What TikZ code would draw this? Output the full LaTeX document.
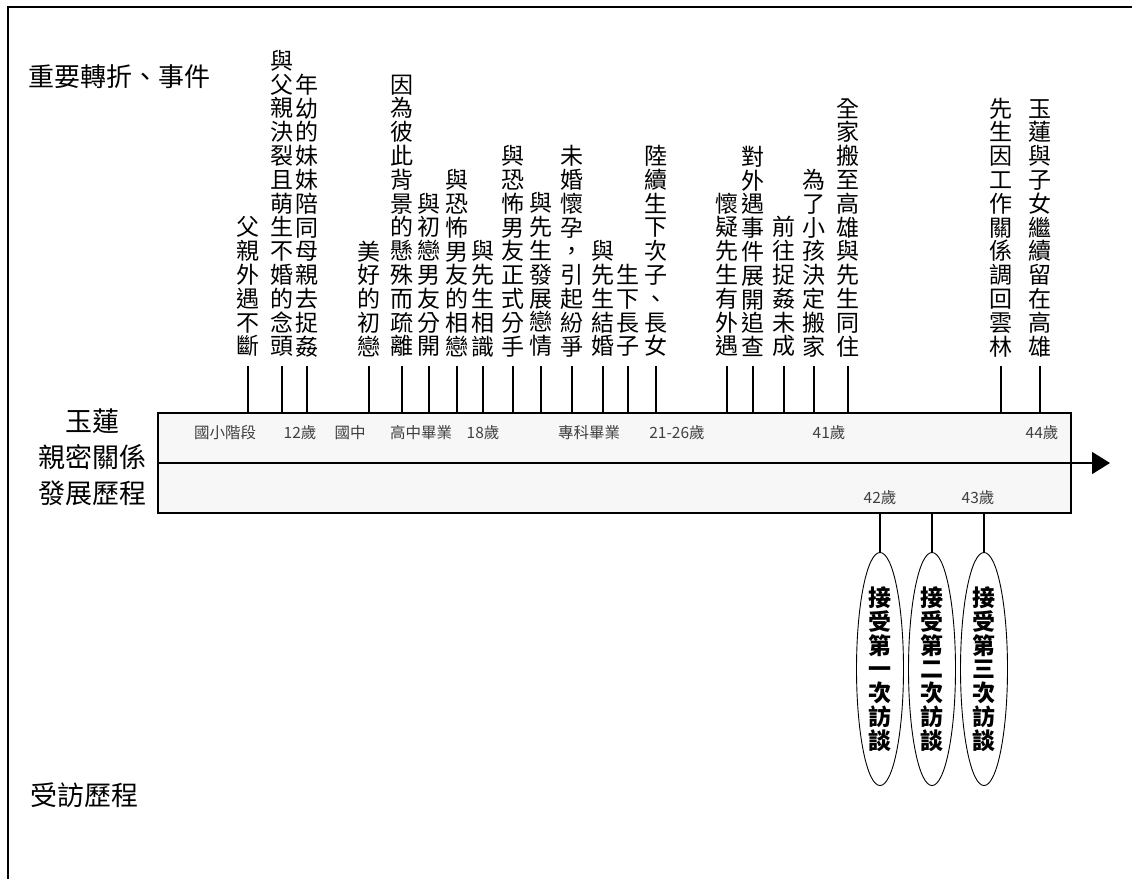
\documentclass[tikz,border=0pt]{standalone}
\usepackage{fontspec}
\newfontfamily\cjk{Noto Sans CJK TC}
\usetikzlibrary{arrows.meta}
\usetikzlibrary{shapes.geometric}
\definecolor{boxgray}{HTML}{F7F7F7}
% characters stacked one under the other
\def\vstkend{vstkend}
\newcommand\vstk[1]{\vbox{\baselineskip=23.8pt\lineskiplimit=-\maxdimen\lineskip=0pt\vstkloop#1\vstkend}}
\def\vstkloop#1{\ifx\vstkend#1\else\hbox to 1em{\hss#1\hss}\expandafter\vstkloop\fi}
\tikzset{ev/.style={anchor=south, inner sep=0pt, font=\cjk\fontsize{23}{23}\selectfont}}
\tikzset{age/.style={inner sep=0pt, text=black!75, font=\cjk\fontsize{15.5}{15.5}\selectfont}}
\tikzset{hd/.style={inner sep=0pt, align=center, font=\cjk\fontsize{27}{36}\selectfont}}
\tikzset{tk/.style={line width=1.5pt, shorten <=9pt}}
\tikzset{stem/.style={line width=1.5pt}}
\tikzset{iv/.style={draw, ellipse, line width=0.9pt, minimum width=47pt, minimum height=212pt, inner sep=0pt, font=\cjk\bfseries\fontsize{23}{23}\selectfont}}

\begin{document}
\begin{tikzpicture}[x=1pt, y=-1pt]
  \useasboundingbox (0,0) rectangle (1132,879);
  \draw[line width=1.2pt] (1132,7) -- (8,7) -- (8,879);

  \node[hd, anchor=west, font=\cjk\fontsize{26}{26}\selectfont] (top) at (28,77) {重要轉折、事件};
  \node[hd] (name) at (92,457) {玉蓮\\親密關係\\發展歷程};
  \node[hd, anchor=west] (bot) at (30,795) {受訪歷程};

  % time line
  \node[draw, fill=boxgray, line width=1.6pt, minimum width=913pt, minimum height=100pt, inner sep=0pt] (box) at (614.5,463) {};
  \coordinate (tip) at (1110,463);
  \draw[line width=1.6pt, -{Triangle[length=18pt, width=22pt]}] (box.west) -- (tip);

  \node[age] (a1) at (225,433) {國小階段};
  \node[age] (a2) at (300,433) {12歲};
  \node[age] (a3) at (350,433) {國中};
  \node[age] (a4) at (421,433) {高中畢業};
  \node[age] (a5) at (483,433) {18歲};
  \node[age] (a6) at (589,433) {專科畢業};
  \node[age] (a7) at (677,433) {21-26歲};
  \node[age] (a8) at (829,433) {41歲};
  \node[age] (a9) at (1042,433) {44歲};
  \node[age] (a10) at (880,498) {42歲};
  \node[age] (a11) at (978,498) {43歲};

  % events
  \node[ev] (e1) at (248,357) {\vstk{父親外遇不斷}} edge[tk] (e1 |- box.north);
  \node[ev] (e2) at (282,357) {\vstk{與父親決裂且萌生不婚的念頭}} edge[tk] (e2 |- box.north);
  \node[ev] (e3) at (307,357) {\vstk{年幼的妹妹陪同母親去捉姦}} edge[tk] (e3 |- box.north);
  \node[ev] (e4) at (369,357) {\vstk{美好的初戀}} edge[tk] (e4 |- box.north);
  \node[ev] (e5) at (402,357) {\vstk{因為彼此背景的懸殊而疏離}} edge[tk] (e5 |- box.north);
  \node[ev] (e6) at (429,357) {\vstk{與初戀男友分開}} edge[tk] (e6 |- box.north);
  \node[ev] (e7) at (457,357) {\vstk{與恐怖男友的相戀}} edge[tk] (e7 |- box.north);
  \node[ev] (e8) at (483,357) {\vstk{與先生相識}} edge[tk] (e8 |- box.north);
  \node[ev] (e9) at (513,357) {\vstk{與恐怖男友正式分手}} edge[tk] (e9 |- box.north);
  \node[ev] (e10) at (541,357) {\vstk{與先生發展戀情}} edge[tk] (e10 |- box.north);
  \node[ev] (e11) at (572,357) {\vstk{未婚懷孕，引起紛爭}} edge[tk] (e11 |- box.north);
  \node[ev] (e12) at (603,357) {\vstk{與先生結婚}} edge[tk] (e12 |- box.north);
  \node[ev] (e13) at (628,357) {\vstk{生下長子}} edge[tk] (e13 |- box.north);
  \node[ev] (e14) at (656,357) {\vstk{陸續生下次子、長女}} edge[tk] (e14 |- box.north);
  \node[ev] (e15) at (727,357) {\vstk{懷疑先生有外遇}} edge[tk] (e15 |- box.north);
  \node[ev] (e16) at (753,357) {\vstk{對外遇事件展開追查}} edge[tk] (e16 |- box.north);
  \node[ev] (e17) at (784,357) {\vstk{前往捉姦未成}} edge[tk] (e17 |- box.north);
  \node[ev] (e18) at (814,357) {\vstk{為了小孩決定搬家}} edge[tk] (e18 |- box.north);
  \node[ev] (e19) at (848,357) {\vstk{全家搬至高雄與先生同住}} edge[tk] (e19 |- box.north);
  \node[ev] (e20) at (1001,357) {\vstk{先生因工作關係調回雲林}} edge[tk] (e20 |- box.north);
  \node[ev] (e21) at (1040,357) {\vstk{玉蓮與子女繼續留在高雄}} edge[tk] (e21 |- box.north);

  % interviews
  \node[iv] (i1) at (880,669) {\vstk{接受第一次訪談}} edge[stem] (i1 |- box.south);
  \node[iv] (i2) at (932,669) {\vstk{接受第二次訪談}} edge[stem] (i2 |- box.south);
  \node[iv] (i3) at (984,669) {\vstk{接受第三次訪談}} edge[stem] (i3 |- box.south);
\end{tikzpicture}
\end{document}
